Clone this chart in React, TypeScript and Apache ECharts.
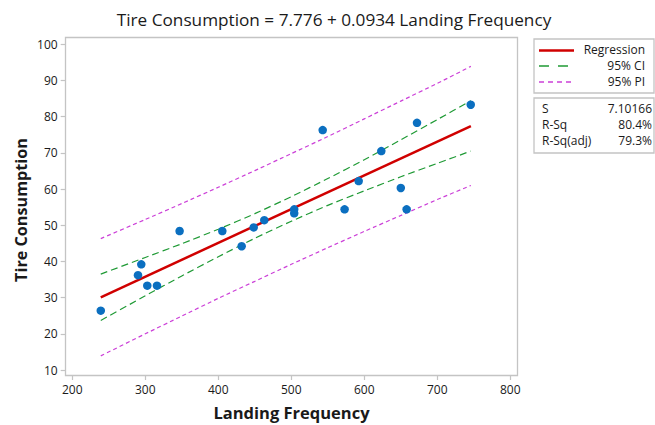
import React, { useEffect, useRef } from "react";
import * as echarts from "echarts";

const titleText = "Tire Consumption = 7.776 + 0.0934 Landing Frequency";
const xTitle = "Landing Frequency";
const yTitle = "Tire Consumption";

const dataX = [239, 290, 294.5, 302.7, 316, 347, 405.5, 432, 448.5, 463, 504, 504, 543, 573, 592.3, 623.3, 650, 658, 672.2, 745.8];
const dataY = [26.4, 36.2, 39.2, 33.3, 33.3, 48.4, 48.4, 44.2, 49.4, 51.4, 54.4, 53.3, 76.3, 54.4, 62.2, 70.5, 60.3, 54.4, 78.3, 83.3];

const fitX = [239, 746];
const fitY = [30.1, 77.4];

const bandX = [239, 300, 350, 400, 450, 500, 550, 600, 650, 700, 746];
const ciUpper = [36.5, 41.1, 44.9, 48.9, 53.2, 57.9, 62.9, 68.1, 73.6, 79.2, 84.4];
const ciLower = [23.7, 30.5, 36.0, 41.3, 46.4, 51.1, 55.5, 59.5, 63.4, 67.1, 70.5];
const piUpper = [46.3, 51.6, 56.0, 60.5, 65.1, 69.8, 74.5, 79.4, 84.3, 89.2, 93.9];
const piLower = [13.9, 20.0, 24.9, 29.8, 34.5, 39.2, 43.8, 48.3, 52.7, 57.1, 61.0];

const legendItems = ["Regression", "95% CI", "95% PI"];
const statLabels = ["S", "R-Sq", "R-Sq(adj)"];
const statValues = ["7.10166", "80.4%", "79.3%"];

const FONT = "'Open Sans', 'Noto Sans', sans-serif";
const TXT = "#1a1a1a";
const FRAME = "#c4c4c4";
const RED = "#d00000";
const GREEN = "#1f9a35";
const MAGENTA = "#cc40d8";
const BLUE = "#0b6fc0";

export default function App() {
  const ref = useRef<HTMLDivElement>(null);
  useEffect(() => {
    if (!ref.current) return;
    const chart = echarts.init(ref.current, undefined, { renderer: "svg" });
    const zip = (xs: number[], ys: number[]) => xs.map((x, i) => [x, ys[i]]);
    const lineSeries = (name: string, ys: number[], color: string, dash: any, width: number) => ({
      name,
      type: "line",
      data: zip(bandX, ys),
      symbol: "none",
      smooth: 0.2,
      lineStyle: { color, type: dash, width },
      z: 3,
    });
    const legendRowY = [49.5, 65, 81];
    const statRowY = [108, 124, 140];
    const graphic: any[] = [
      {
        type: "rect",
        shape: { x: 65.5, y: 37.5, width: 452, height: 338 },
        style: { fill: "none", stroke: FRAME, lineWidth: 1.3 },
        z: 1,
      },
      {
        type: "text",
        x: 334,
        y: 19,
        style: { text: titleText, font: `17.2px ${FONT}`, fill: TXT, align: "center", verticalAlign: "middle" },
      },
      {
        type: "text",
        x: 291.5,
        y: 412,
        style: { text: xTitle, font: `bold 16.5px ${FONT}`, fill: TXT, align: "center", verticalAlign: "middle" },
      },
      {
        type: "text",
        x: 20.5,
        y: 210,
        rotation: Math.PI / 2,
        style: { text: yTitle, font: `bold 16.2px ${FONT}`, fill: TXT, align: "center", verticalAlign: "middle" },
      },
      {
        type: "rect",
        shape: { x: 534, y: 39, width: 120, height: 54 },
        style: { fill: "none", stroke: FRAME, lineWidth: 1.3 },
      },
      {
        type: "rect",
        shape: { x: 534, y: 98, width: 120, height: 55 },
        style: { fill: "none", stroke: FRAME, lineWidth: 1.3 },
      },
      {
        type: "line",
        shape: { x1: 539, y1: legendRowY[0] + 1, x2: 574, y2: legendRowY[0] + 1 },
        style: { stroke: RED, lineWidth: 2.5 },
      },
      {
        type: "line",
        shape: { x1: 539, y1: legendRowY[1] + 1, x2: 574, y2: legendRowY[1] + 1 },
        style: { stroke: GREEN, lineWidth: 1.3, lineDash: [10, 9] },
      },
      {
        type: "line",
        shape: { x1: 539, y1: legendRowY[2] + 1, x2: 574, y2: legendRowY[2] + 1 },
        style: { stroke: MAGENTA, lineWidth: 1.3, lineDash: [5, 4] },
      },
    ];
    legendItems.forEach((t, i) => {
      graphic.push({
        type: "text",
        x: 645,
        y: legendRowY[i],
        style: { text: t, font: `12px ${FONT}`, fill: TXT, align: "right", verticalAlign: "middle" },
      });
    });
    statLabels.forEach((t, i) => {
      graphic.push({
        type: "text",
        x: 542,
        y: statRowY[i],
        style: { text: t, font: `12px ${FONT}`, fill: TXT, align: "left", verticalAlign: "middle" },
      });
      graphic.push({
        type: "text",
        x: 652,
        y: statRowY[i],
        style: { text: statValues[i], font: `12px ${FONT}`, fill: TXT, align: "right", verticalAlign: "middle" },
      });
    });

    chart.setOption({
      animation: false,
      grid: { left: 72.3, right: 144.7, top: 44.3, bottom: 55, containLabel: false },
      xAxis: {
        type: "value",
        min: 200,
        max: 800,
        interval: 100,
        offset: 6,
        axisLine: { show: false },
        axisTick: { show: true, length: 4, lineStyle: { color: FRAME, width: 1.2 } },
        splitLine: { show: false },
        axisLabel: { color: TXT, fontSize: 12, fontFamily: FONT, margin: 7 },
      },
      yAxis: {
        type: "value",
        min: 10,
        max: 100,
        interval: 10,
        offset: 6.6,
        axisLine: { show: false },
        axisTick: { show: true, length: 5, lineStyle: { color: FRAME, width: 1.2 } },
        splitLine: { show: false },
        axisLabel: { color: TXT, fontSize: 12, fontFamily: FONT, margin: 8 },
      },
      graphic,
      series: [
        lineSeries("95% PI upper", piUpper, MAGENTA, [4, 3], 1.2),
        lineSeries("95% PI lower", piLower, MAGENTA, [4, 3], 1.2),
        lineSeries("95% CI upper", ciUpper, GREEN, [7, 4], 1.2),
        lineSeries("95% CI lower", ciLower, GREEN, [7, 4], 1.2),
        {
          name: "Regression",
          type: "line",
          data: zip(fitX, fitY),
          symbol: "none",
          lineStyle: { color: RED, width: 2.5 },
          z: 4,
        },
        {
          name: "Data",
          type: "scatter",
          data: zip(dataX, dataY),
          symbol: "circle",
          symbolSize: 8.5,
          itemStyle: { color: BLUE, opacity: 1 },
          z: 5,
        },
      ],
    });
    return () => chart.dispose();
  }, []);
  return (
    <div
      ref={ref}
      style={{ position: "fixed", left: 0, top: 0, width: 655, height: 425, background: "#fff" }}
    />
  );
}
